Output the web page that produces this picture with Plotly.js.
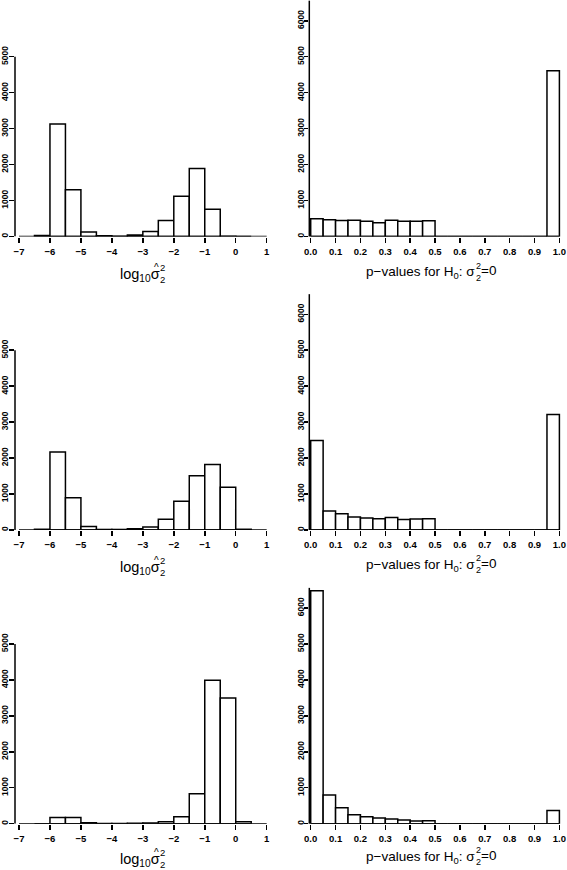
<!DOCTYPE html>
<html><head><meta charset="utf-8">
<script src="https://cdn.plot.ly/plotly-3.0.1.min.js"></script>
<style>html,body{margin:0;padding:0;background:#fff}#chart{width:567px;height:870px}</style>
</head><body><div id="chart"></div>
<script>
// ---- data ----
const logBinStart = [-6.5,-6,-5.5,-5,-4.5,-4,-3.5,-3,-2.5,-2,-1.5,-1,-0.5,0];
const logBinWidth = 0.5;
const pBinStart = [0,0.05,0.1,0.15,0.2,0.25,0.3,0.35,0.4,0.45,0.5,0.55,0.6,0.65,0.7,0.75,0.8,0.85,0.9,0.95];
const pBinWidth = 0.05;

const logCountsRow1 = [30,3130,1300,125,20,5,40,140,445,1120,1890,760,10,0];
const logCountsRow2 = [20,2170,895,95,15,15,35,85,300,800,1510,1825,1190,20];
const logCountsRow3 = [0,170,170,25,5,5,10,20,55,195,835,3990,3495,55];

const pCountsRow1 = [495,465,445,450,425,380,455,425,425,435,0,0,0,0,0,0,0,0,0,4610];
const pCountsRow2 = [2490,530,450,360,335,315,345,290,305,315,0,0,0,0,0,0,0,0,0,3210];
const pCountsRow3 = [6480,800,445,250,195,160,130,100,75,85,0,0,0,0,0,0,0,0,0,370];

const logTicks = [-7,-6,-5,-4,-3,-2,-1,0,1];
const pTicks = [0,0.1,0.2,0.3,0.4,0.5,0.6,0.7,0.8,0.9,1.0];
const logYTicks = [0,1000,2000,3000,4000,5000];
const pYTicks = [0,1000,2000,3000,4000,5000,6000];

// axis titles, split so the sigma hat and stacked super/subscripts line up
const logTitleMain = "log<sub>10</sub>σ";
const hatMark = "^";
const stackedTwos = "2<br>2";
const pTitleMain = "p\u2212values for H<sub>0</sub>: σ";
const pTitleTail = "=0";

// ---- layout geometry (pixels) ----
const W = 567, H = 870;
const baselines = [236.5, 530, 823.7];
const titleAdj = [0, -1, -2.5];
const yScale = 0.03595;          // px per count
const yTop = 6560;
const leftDom = [15, 267], leftScale = 30.96, leftFirst = -7, leftFirstPx = 19;
const rightDom = [309.3, 562], rightScale = 248.7, rightFirst = 0, rightFirstPx = 310.7;

const centers = (starts, w) => starts.map(s => s + w / 2);
const logCounts = [logCountsRow1, logCountsRow2, logCountsRow3];
const pCounts = [pCountsRow1, pCountsRow2, pCountsRow3];

const FONT = "Liberation Sans, Arial, Helvetica, sans-serif";
const NARROW = "Liberation Sans Narrow, Liberation Sans, Arial, sans-serif";

const data = [];
const layout = {
  width: W, height: H, margin: {l:0,r:0,t:0,b:0},
  paper_bgcolor: "white", plot_bgcolor: "white",
  showlegend: false, bargap: 0,
  font: {family: FONT, color: "black"},
  shapes: [], annotations: []
};

function xRange(dom, scale, first, firstPx) {
  const r0 = first - (firstPx - dom[0]) / scale;
  return [r0, r0 + (dom[1] - dom[0]) / scale];
}
function ann(xpx, ypx, text, size, xanchor) {
  return {xref: "paper", yref: "paper", x: xpx / W, y: 1 - ypx / H,
    xanchor: xanchor, yanchor: "middle", showarrow: false, borderpad: 0, borderwidth: 0,
    text: text, font: {size: size, family: FONT, color: "black"}};
}

let k = 0;
for (let row = 0; row < 3; row++) {
  const b = baselines[row];
  const tb = b + titleAdj[row];
  const topPx = b - yTop * yScale;
  const yDom = [1 - b / H, 1 - topPx / H];
  for (let col = 0; col < 2; col++) {
    k++;
    const xa = "x" + (k === 1 ? "" : k), ya = "y" + (k === 1 ? "" : k);
    const axKey = k === 1 ? "" : k;
    const isLog = col === 0;
    const dom = isLog ? leftDom : rightDom;
    data.push({
      type: "bar",
      x: isLog ? centers(logBinStart, logBinWidth) : centers(pBinStart, pBinWidth),
      y: isLog ? logCounts[row] : pCounts[row],
      width: isLog ? logBinWidth : pBinWidth,
      marker: {color: "white", line: {color: "black", width: 1.5}},
      xaxis: xa, yaxis: ya, hoverinfo: "skip"
    });
    layout["xaxis" + axKey] = {
      domain: [dom[0] / W, dom[1] / W],
      range: isLog ? xRange(leftDom, leftScale, leftFirst, leftFirstPx) : xRange(rightDom, rightScale, rightFirst, rightFirstPx),
      anchor: ya, showgrid: false, zeroline: false, showline: false,
      tickmode: "array", tickvals: isLog ? logTicks : pTicks,
      tickformat: isLog ? "d" : ".1f",
      ticks: "outside", ticklen: 5, tickwidth: 1.5, tickcolor: "black",
      tickfont: {size: 9.5, family: FONT, color: "black", weight: "bold"}, ticklabelstandoff: 1
    };
    layout["yaxis" + axKey] = {
      domain: yDom, range: [0, yTop], anchor: xa,
      showgrid: false, zeroline: false, showline: false,
      tickmode: "array", tickvals: isLog ? logYTicks : pYTicks,
      tickangle: -90,
      ticks: "outside", ticklen: isLog ? 5 : 4, tickwidth: 1.5, tickcolor: "black",
      tickfont: {size: 8.5, family: NARROW, color: "black", weight: "bold"}, ticklabelstandoff: isLog ? -2 : -3
    };
    // axis lines
    layout.shapes.push({type: "line", xref: xa, yref: ya,
      x0: isLog ? logTicks[0] : pTicks[0], x1: isLog ? logTicks[logTicks.length-1] : pTicks[pTicks.length-1],
      y0: 0, y1: 0, line: {color: "black", width: 1.5}});
    layout.shapes.push({type: "line", xref: xa + " domain", yref: isLog ? ya : ya + " domain",
      x0: 0, x1: 0, y0: 0, y1: isLog ? logYTicks[logYTicks.length-1] : 1,
      line: {color: "black", width: 1.5}});
    // titles
    if (isLog) {
      layout.annotations.push(ann(159.5, tb + 38.5, logTitleMain, 14.5, "right"));
      layout.annotations.push(ann(156, tb + 31, hatMark, 10, "center"));
      layout.annotations.push(ann(159.8, tb + 37, stackedTwos, 9.5, "left"));
    } else {
      layout.annotations.push(ann(475.3, tb + 36, pTitleMain, 13.5, "right"));
      layout.annotations.push(ann(475.5, tb + 35, stackedTwos, 9, "left"));
      layout.annotations.push(ann(481, tb + 34.5, pTitleTail, 13.5, "left"));
    }
  }
}

Plotly.newPlot("chart", data, layout, {staticPlot: true, displayModeBar: false});
</script>
</body></html>
